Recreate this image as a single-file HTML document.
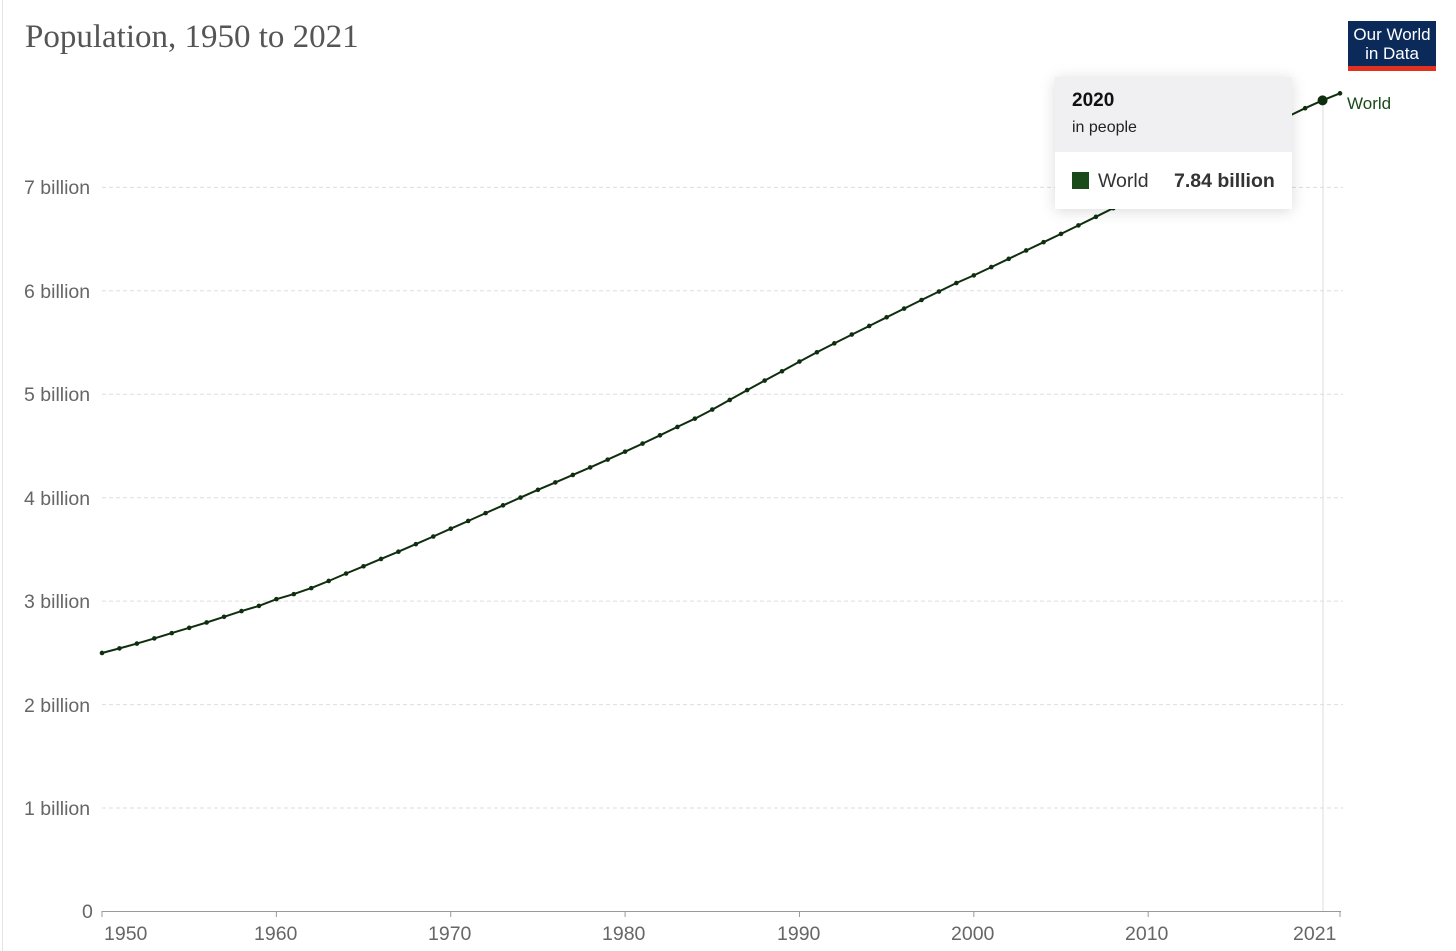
<!DOCTYPE html>
<html><head><meta charset="utf-8"><style>
body{margin:0;width:1456px;height:951px;background:#fff;overflow:hidden;font-family:"Liberation Sans",sans-serif;position:relative}
.t{position:absolute;font-size:19.5px;color:#666}
</style></head><body>
<div style="position:absolute;left:2px;top:0;width:1px;height:951px;background:#e4e4e4"></div>
<div style="position:absolute;left:25px;top:19px;font-family:'Liberation Serif',serif;font-size:33px;color:#555">Population, 1950 to 2021</div>
<div style="position:absolute;left:1348px;top:21px;width:88px;height:50px;background:#0b2a5a;color:#fff;font-size:17px;line-height:19px;text-align:center;box-sizing:border-box;padding-top:4px;border-bottom:5px solid #e0321e">Our World<br>in Data</div>
<svg id="s" width="1456" height="951" style="position:absolute;left:0;top:0"></svg>
<div class="t" style="left:24px;top:177px">7 billion</div>
<div class="t" style="left:24px;top:281px">6 billion</div>
<div class="t" style="left:24px;top:384px">5 billion</div>
<div class="t" style="left:24px;top:488px">4 billion</div>
<div class="t" style="left:24px;top:591px">3 billion</div>
<div class="t" style="left:24px;top:695px">2 billion</div>
<div class="t" style="left:24px;top:798px">1 billion</div>
<div class="t" style="left:82px;top:901px">0</div>
<div class="t" style="left:104px;top:923px">1950</div>
<div class="t" style="left:254px;top:923px">1960</div>
<div class="t" style="left:428px;top:923px">1970</div>
<div class="t" style="left:602px;top:923px">1980</div>
<div class="t" style="left:777px;top:923px">1990</div>
<div class="t" style="left:951px;top:923px">2000</div>
<div class="t" style="left:1125px;top:923px">2010</div>
<div class="t" style="left:1293px;top:923px">2021</div>
<div style="position:absolute;left:1347px;top:94px;font-size:17px;color:#1a4a1a">World</div>
<div style="position:absolute;left:1055px;top:77px;width:237px;height:132px;background:#fff;box-shadow:0 2px 14px rgba(0,0,0,.15)">
<div style="background:#f0f0f2;height:75px;padding:13px 0 0 17px;box-sizing:border-box">
<div style="font-size:19px;font-weight:bold;color:#111">2020</div>
<div style="font-size:16px;color:#222;margin-top:7px">in people</div></div>
<div style="position:absolute;left:17px;top:95px;width:17px;height:17px;background:#1a4a1a"></div>
<div style="position:absolute;left:43px;top:93px;font-size:19.5px;color:#333">World</div>
<div style="position:absolute;left:119px;top:93px;font-size:19.5px;font-weight:bold;color:#333">7.84 billion</div>
</div>
<script>
var d=[2.499,2.543,2.590,2.640,2.691,2.742,2.794,2.849,2.904,2.954,3.019,3.068,3.126,3.195,3.267,3.337,3.408,3.478,3.551,3.625,3.700,3.775,3.851,3.926,4.001,4.076,4.148,4.220,4.293,4.368,4.445,4.523,4.603,4.684,4.764,4.852,4.945,5.040,5.132,5.222,5.316,5.406,5.492,5.577,5.660,5.744,5.828,5.911,5.993,6.075,6.149,6.229,6.309,6.390,6.470,6.550,6.632,6.715,6.799,6.883,6.986,7.072,7.160,7.247,7.333,7.427,7.513,7.600,7.684,7.765,7.841,7.909];
var X=function(i){return 102+i*1238/71},Y=function(v){return 911.5-v*103.45};
var h='';
for(var b=1;b<=7;b++){var y=Y(b);h+='<line x1="102" x2="1343" y1="'+y+'" y2="'+y+'" stroke="#ddd" stroke-dasharray="4,3"/>';}
h+='<line x1="1323" x2="1323" y1="100" y2="911" stroke="#ddd"/>';
h+='<line x1="102" x2="1341" y1="911.5" y2="911.5" stroke="#999"/>';
[1950,1960,1970,1980,1990,2000,2010,2021].forEach(function(yr){var x=X(yr-1950);h+='<line x1="'+x+'" x2="'+x+'" y1="911" y2="917" stroke="#999"/>';});
var p=d.map(function(v,i){return X(i).toFixed(1)+','+Y(v).toFixed(1)}).join(' ');
h+='<polyline points="'+p+'" fill="none" stroke="#0f2e0f" stroke-width="2"/>';
d.forEach(function(v,i){h+='<circle cx="'+X(i)+'" cy="'+Y(v)+'" r="'+(i==70?5:2.3)+'" fill="#0f2e0f"/>';});
document.getElementById('s').innerHTML=h;
</script>
</body></html>
